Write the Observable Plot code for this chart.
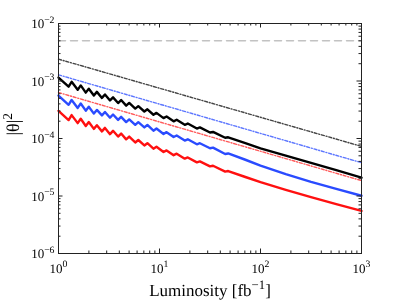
<!DOCTYPE html>
<html><head><meta charset="utf-8">
<script src="https://cdn.jsdelivr.net/npm/d3@7"></script>
<script src="https://cdn.jsdelivr.net/npm/@observablehq/plot@0.6"></script>
<style>body{margin:0;background:#fff} svg{display:block} #chart{will-change:transform} svg text{-webkit-font-smoothing:antialiased;text-rendering:geometricPrecision}</style>
</head><body><div id="chart"></div>
<script>
// ---- data ----
const lumiSolid = [1, 1.259, 1.349, 1.549, 1.660, 1.862, 1.995, 2.239, 2.399, 2.692, 2.884, 3.236, 3.467, 3.890, 4.169, 4.677, 5.012, 5.754, 6.166, 7.079, 7.586, 8.710, 9.333, 10.96, 11.75, 13.80, 14.79, 17.78, 19.05, 23.44, 25.12, 31.62, 33.88, 44.67, 47.86, 70.79, 100, 177.8, 316.2, 562.3, 1000];
const blackSolid = [1.148e-3, 7.96e-4, 9.68e-4, 7.02e-4, 8.38e-4, 6.28e-4, 7.35e-4, 5.58e-4, 6.47e-4, 5.08e-4, 5.83e-4, 4.59e-4, 5.20e-4, 4.14e-4, 4.66e-4, 3.73e-4, 4.16e-4, 3.31e-4, 3.65e-4, 2.95e-4, 3.22e-4, 2.59e-4, 2.79e-4, 2.26e-4, 2.41e-4, 1.99e-4, 2.12e-4, 1.73e-4, 1.82e-4, 1.49e-4, 1.56e-4, 1.27e-4, 1.30e-4, 1.03e-4, 1.05e-4, 8.32e-5, 6.76e-5, 5.05e-5, 3.76e-5, 2.81e-5, 2.09e-5];
const blueSolid = [5.57e-4, 3.86e-4, 4.69e-4, 3.40e-4, 4.06e-4, 3.05e-4, 3.56e-4, 2.71e-4, 3.14e-4, 2.52e-4, 2.89e-4, 2.30e-4, 2.61e-4, 2.11e-4, 2.38e-4, 1.93e-4, 2.15e-4, 1.73e-4, 1.92e-4, 1.56e-4, 1.72e-4, 1.37e-4, 1.49e-4, 1.20e-4, 1.29e-4, 1.06e-4, 1.13e-4, 9.21e-5, 9.68e-5, 7.93e-5, 8.28e-5, 6.77e-5, 6.94e-5, 5.38e-5, 5.49e-5, 4.27e-5, 3.39e-5, 2.40e-5, 1.76e-5, 1.33e-5, 1.01e-5];
const redSolid = [3.02e-4, 2.09e-4, 2.55e-4, 1.85e-4, 2.20e-4, 1.65e-4, 1.93e-4, 1.47e-4, 1.70e-4, 1.33e-4, 1.53e-4, 1.19e-4, 1.36e-4, 1.08e-4, 1.22e-4, 9.67e-5, 1.08e-4, 8.53e-5, 9.42e-5, 7.58e-5, 8.29e-5, 6.66e-5, 7.19e-5, 5.81e-5, 6.21e-5, 5.13e-5, 5.45e-5, 4.46e-5, 4.68e-5, 3.84e-5, 4.00e-5, 3.27e-5, 3.36e-5, 2.66e-5, 2.72e-5, 2.14e-5, 1.74e-5, 1.28e-5, 9.55e-6, 7.23e-6, 5.50e-6];
const lumiStraight = [1, 1000];
const grayDashed = [5e-3, 5e-3];
const blackDashDot = [2.4e-3, 7.3e-5];
const blueDashDot = [1.28e-3, 3.8e-5];
const redDotted = [6.3e-4, 1.85e-5];

const xMajor = [1, 10, 100, 1000];
const yMajor = [1e-6, 1e-5, 1e-4, 1e-3, 1e-2];
const xTickLabels = ["10^0", "10^1", "10^2", "10^3"];
const yTickLabels = ["10^−6", "10^−5", "10^−4", "10^−3", "10^−2"];
const xTitle = "Luminosity [fb^{−1}]";
const yTitle = "|θ|^{2}";

const xMinor = [1, 10, 100].flatMap(d => [2,3,4,5,6,7,8,9].map(k => k * d));
const yMinor = [1e-6, 1e-5, 1e-4, 1e-3].flatMap(d => [2,3,4,5,6,7,8,9].map(k => k * d));

// ---- styles ----
const styles = [
  {key: "gray",  L: lumiStraight, v: grayDashed,   stroke: "#c2c2c2", w: 1.5, dash: "7,5"},
  {key: "kdd",   L: lumiStraight, v: blackDashDot, stroke: "#444444", w: 1.4, dash: "3,1.8,1,1.8"},
  {key: "bdd",   L: lumiStraight, v: blueDashDot,  stroke: "#5c76ff", w: 1.4, dash: "3,1.8,1,1.8"},
  {key: "rdot",  L: lumiStraight, v: redDotted,    stroke: "#ff5a5a", w: 1.4, dash: "3,1.8,1,1.8"},
  {key: "k",     L: lumiSolid,    v: blackSolid,   stroke: "#000000", w: 2.4, dash: null},
  {key: "b",     L: lumiSolid,    v: blueSolid,    stroke: "#2a4bff", w: 2.4, dash: null},
  {key: "r",     L: lumiSolid,    v: redSolid,     stroke: "#ff1010", w: 2.4, dash: null}
];
const rows = styles.flatMap(s => s.L.map((l, i) => ({key: s.key, L: l, v: s.v[i]})));

const W = 399, H = 300, mL = 58, mR = 38, mT = 23, mB = 47;
const iW = W - mL - mR, iH = H - mT - mB;
const majLen = 4.5, minLen = 2.5;
const fs = 13;

const svg = Plot.plot({
  width: W, height: H,
  marginLeft: mL, marginRight: mR, marginTop: mT, marginBottom: mB,
  style: {fontFamily: "'Liberation Serif', 'Times New Roman', serif", fontSize: fs + "px", background: "#fff", color: "#000"},
  x: {type: "log", domain: [1, 1000], label: null},
  y: {type: "log", domain: [1e-6, 1e-2], label: null},
  marks: [
    ...styles.map(s => Plot.line(rows.filter(r => r.key === s.key), {
      x: "L", y: "v", stroke: s.stroke, strokeWidth: s.w,
      strokeDasharray: s.dash || undefined, strokeLinejoin: "round", curve: "linear"
    })),
    // inward ticks on all four sides
    Plot.tickX(xMajor, {x: d => d, insetTop: iH - majLen, stroke: "#222"}),
    Plot.tickX(xMajor, {x: d => d, insetBottom: iH - majLen, stroke: "#222"}),
    Plot.tickX(xMinor, {x: d => d, insetTop: iH - minLen, stroke: "#222"}),
    Plot.tickX(xMinor, {x: d => d, insetBottom: iH - minLen, stroke: "#222"}),
    Plot.tickY(yMajor, {y: d => d, insetRight: iW - majLen, stroke: "#222"}),
    Plot.tickY(yMajor, {y: d => d, insetLeft: iW - majLen, stroke: "#222"}),
    Plot.tickY(yMinor, {y: d => d, insetRight: iW - minLen, stroke: "#222"}),
    Plot.tickY(yMinor, {y: d => d, insetLeft: iW - minLen, stroke: "#222"}),
    Plot.frame({stroke: "#222", strokeWidth: 1}),
    Plot.axisX(xMajor, {anchor: "bottom", tickSize: 0, tickPadding: 10, fontSize: fs, fill: "#000",
      tickFormat: d => xTickLabels[xMajor.indexOf(d)], label: null}),
    Plot.axisY(yMajor, {anchor: "left", tickSize: 0, tickPadding: 4, fontSize: fs, dy: 0.5, fill: "#000",
      tickFormat: d => yTickLabels[yMajor.indexOf(d)], label: null}),
    Plot.text([xTitle], {frameAnchor: "bottom", dy: 37, text: d => d, fontSize: 17, lineAnchor: "middle", fill: "#000"}),
    Plot.text([yTitle], {frameAnchor: "left", dx: -45, dy: -3, text: d => d, fontSize: 18, rotate: -90, fill: "#000"})
  ]
});

// superscripts
d3.select(svg).selectAll("text").each(function() {
  const t = this.textContent;
  if (!t || t.indexOf("^") < 0) return;
  let m = t.match(/^(.*)\^\{(.*)\}(.*)$/) || t.match(/^(.*)\^(.*)$/);
  const base = m[1], exp = m[2], suf = m[3] || "";
  let size = parseFloat(this.getAttribute("font-size")) || parseFloat(this.parentNode.getAttribute("font-size")) || fs;
  const sel = d3.select(this);
  sel.text(null);
  sel.append("tspan").text(base);
  const up = 0.42 * size;
  sel.append("tspan").attr("dy", -up).attr("font-size", (0.75 * size) + "px").text(exp);
  if (suf) sel.append("tspan").attr("dy", up).attr("font-size", size + "px").text(suf);
});

document.getElementById("chart").appendChild(svg);
</script>
</body></html>
